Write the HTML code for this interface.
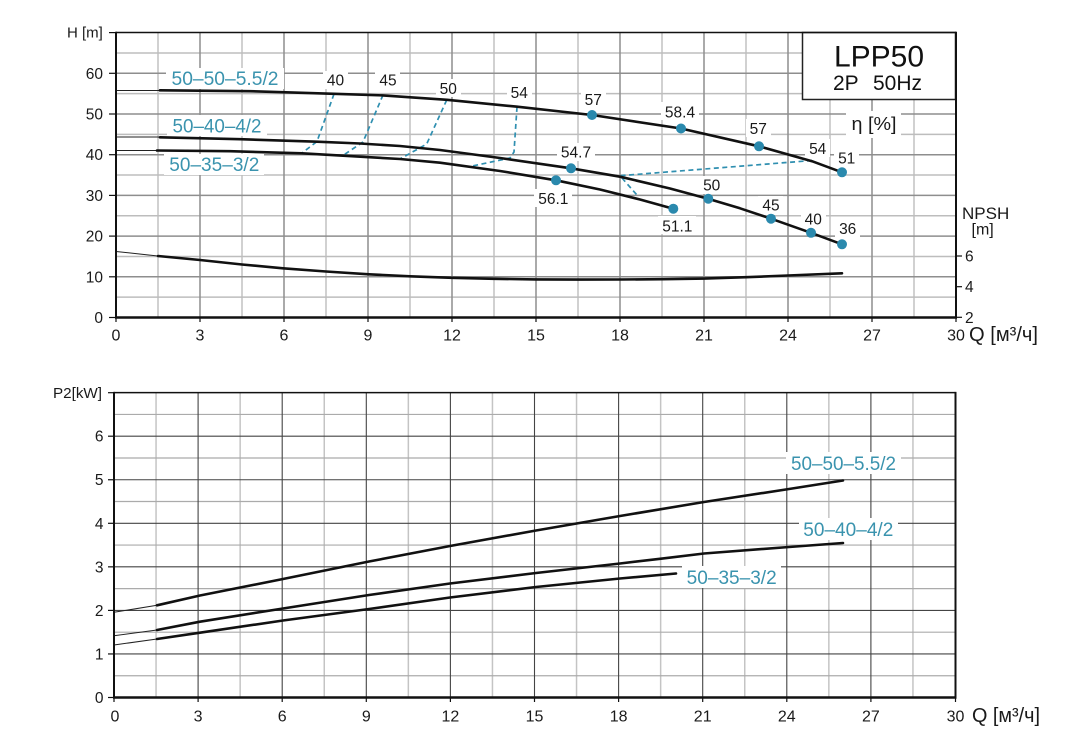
<!DOCTYPE html>
<html><head><meta charset="utf-8"><style>
html,body{margin:0;padding:0;background:#fff;}
svg{display:block;}
text{font-family:"Liberation Sans",Arial,sans-serif;}
</style></head><body>
<svg width="1079" height="756" viewBox="0 0 1079 756" xmlns="http://www.w3.org/2000/svg">
<rect width="1079" height="756" fill="#fff"/>

<!-- ================= TOP CHART ================= -->
<g>
<g stroke="#a3a3a3" stroke-width="1">
<line x1="158" y1="32.5" x2="158" y2="317.5"/><line x1="242" y1="32.5" x2="242" y2="317.5"/>
<line x1="326" y1="32.5" x2="326" y2="317.5"/><line x1="410" y1="32.5" x2="410" y2="317.5"/>
<line x1="494" y1="32.5" x2="494" y2="317.5"/><line x1="578" y1="32.5" x2="578" y2="317.5"/>
<line x1="662" y1="32.5" x2="662" y2="317.5"/><line x1="746" y1="32.5" x2="746" y2="317.5"/>
<line x1="830" y1="32.5" x2="830" y2="317.5"/><line x1="914" y1="32.5" x2="914" y2="317.5"/>
</g>
<g stroke="#bdbdbd" stroke-width="1.5">
<line x1="116" y1="297.15" x2="956" y2="297.15"/><line x1="116" y1="256.45" x2="956" y2="256.45"/>
<line x1="116" y1="215.75" x2="956" y2="215.75"/><line x1="116" y1="175.05" x2="956" y2="175.05"/>
<line x1="116" y1="134.35" x2="956" y2="134.35"/><line x1="116" y1="93.65" x2="956" y2="93.65"/>
<line x1="116" y1="52.95" x2="956" y2="52.95"/>
</g>
<g stroke="#8e8e8e" stroke-width="1.5">
<line x1="200" y1="32.5" x2="200" y2="317.5"/><line x1="284" y1="32.5" x2="284" y2="317.5"/>
<line x1="368" y1="32.5" x2="368" y2="317.5"/><line x1="452" y1="32.5" x2="452" y2="317.5"/>
<line x1="536" y1="32.5" x2="536" y2="317.5"/><line x1="620" y1="32.5" x2="620" y2="317.5"/>
<line x1="704" y1="32.5" x2="704" y2="317.5"/><line x1="788" y1="32.5" x2="788" y2="317.5"/>
<line x1="872" y1="32.5" x2="872" y2="317.5"/>
<line x1="116" y1="276.8" x2="956" y2="276.8"/><line x1="116" y1="236.1" x2="956" y2="236.1"/>
<line x1="116" y1="195.4" x2="956" y2="195.4"/><line x1="116" y1="154.7" x2="956" y2="154.7"/>
<line x1="116" y1="114" x2="956" y2="114"/><line x1="116" y1="73.3" x2="956" y2="73.3"/>
</g>

<rect x="802.5" y="32.5" width="153" height="67" fill="#fff" stroke="#222" stroke-width="1.5"/>
<text x="879" y="66.5" font-size="30" text-anchor="middle" fill="#111">LPP50</text>
<text x="833" y="90" font-size="21" fill="#111">2P</text>
<text x="873" y="90" font-size="21" fill="#111">50Hz</text>

<g fill="#fff">
<rect x="166" y="68" width="118" height="21"/>
<rect x="167" y="115" width="100" height="21"/>
<rect x="164" y="154" width="100" height="21"/>
<rect x="846" y="111" width="55" height="27"/>
<rect x="323" y="71" width="25" height="18"/>
<rect x="375" y="71" width="25" height="18"/>
<rect x="436" y="79" width="25" height="18"/>
<rect x="507" y="83" width="25" height="18"/>
<rect x="581" y="90" width="25" height="18"/>
<rect x="661" y="102" width="38" height="18"/>
<rect x="746" y="119" width="25" height="18"/>
<rect x="805" y="139" width="25" height="18"/>
<rect x="834" y="148" width="25" height="18"/>
<rect x="557" y="143" width="38" height="18"/>
<rect x="534" y="189" width="38" height="18"/>
<rect x="658" y="216" width="38" height="18"/>
<rect x="699" y="176" width="25" height="18"/>
<rect x="758" y="196" width="25" height="18"/>
<rect x="801" y="210" width="25" height="18"/>
<rect x="835" y="219" width="25" height="18"/>
</g>

<g stroke="#222" stroke-width="1">
<line x1="116" y1="90.5" x2="160" y2="90.5"/>
<line x1="116" y1="137" x2="160" y2="137"/>
<line x1="116" y1="150.5" x2="157" y2="150.5"/>
<line x1="116" y1="251.5" x2="158" y2="256"/>
</g>

<g fill="none" stroke="#2f8fb0" stroke-width="1.7" stroke-dasharray="5,3.5">
<polyline points="334,94 317,141.5 302,153"/>
<polyline points="383,95 363,142 343,155.5"/>
<polyline points="446.7,100 426.7,144 400,159"/>
<polyline points="517,107 514,152 510,158 470,166.5"/>
<polyline points="812,160.5 620,175.7 637,195"/>
</g>

<g fill="none" stroke="#111" stroke-width="2.6" stroke-linejoin="round" stroke-linecap="round">
<polyline points="160,90.3 250,91.2 334,93.8 383,95.4 447,99.8 516,106.6 592,115 681,128.5 759,146.3 812,161.2 842,172.3"/>
<polyline points="160,137.3 240,139.2 317,141.7 360,143.5 400,146 440,150 500,158 571,168.3 620,176.7 670,188.5 708,198.7 740,208.3 771,218.7 811,232.8 842,244.3"/>
<polyline points="157,150.5 230,151.2 302,153.3 343,155.7 400,159 440,162.7 500,171 556,180.3 600,189.5 640,199.5 673.3,208.7"/>
<polyline points="158,256 200,260 242,264.5 283,268.3 326,271.5 369,274.3 410,276.3 452,277.8 494,278.8 536,279.4 578,279.6 620,279.5 662,279.2 704,278.6 746,277.2 788,275.5 842,273.3"/>
</g>

<g fill="#2a89ad">
<circle cx="592" cy="115" r="5"/><circle cx="681" cy="128.5" r="5"/><circle cx="759" cy="146.3" r="5"/><circle cx="842" cy="172.3" r="5"/>
<circle cx="571" cy="168.3" r="5"/><circle cx="708.3" cy="198.7" r="5"/><circle cx="771" cy="218.7" r="5"/><circle cx="811" cy="232.8" r="5"/><circle cx="842" cy="244.3" r="5"/>
<circle cx="556" cy="180.3" r="5"/><circle cx="673.3" cy="208.7" r="5"/>
</g>

<g fill="#3a93ae" font-size="19">
<text x="171.5" y="85" textLength="107" lengthAdjust="spacingAndGlyphs">50–50–5.5/2</text>
<text x="172.5" y="132.3" textLength="89" lengthAdjust="spacingAndGlyphs">50–40–4/2</text>
<text x="169.3" y="171" textLength="90" lengthAdjust="spacingAndGlyphs">50–35–3/2</text>
</g>

<g fill="#1a1a1a" font-size="15.5" text-anchor="middle">
<text x="335.5" y="85.5">40</text>
<text x="388" y="85.5">45</text>
<text x="448.3" y="94">50</text>
<text x="519.3" y="98">54</text>
<text x="593.3" y="105">57</text>
<text x="680" y="117.4">58.4</text>
<text x="758.3" y="134">57</text>
<text x="817.7" y="154">54</text>
<text x="846.7" y="163.4">51</text>
<text x="576" y="157.7">54.7</text>
<text x="553.3" y="204">56.1</text>
<text x="677.3" y="231.4">51.1</text>
<text x="711.7" y="190.7">50</text>
<text x="771" y="210.7">45</text>
<text x="813.3" y="224.7">40</text>
<text x="847.7" y="234">36</text>
</g>
<text x="851.5" y="130" font-size="18" fill="#1a1a1a" textLength="45" lengthAdjust="spacingAndGlyphs">η [%]</text>

<g stroke="#111" fill="none">
<line x1="116" y1="32.5" x2="956" y2="32.5" stroke-width="1.5"/>
<line x1="116" y1="31.8" x2="116" y2="318.5" stroke-width="2"/>
<line x1="956" y1="31.8" x2="956" y2="318.5" stroke-width="2"/>
<line x1="115" y1="317.5" x2="957" y2="317.5" stroke-width="2.6"/>
</g>
<g stroke="#111" stroke-width="1.2">
<line x1="109" y1="32.6" x2="116" y2="32.6"/><line x1="109" y1="73.3" x2="116" y2="73.3"/>
<line x1="109" y1="114" x2="116" y2="114"/><line x1="109" y1="154.7" x2="116" y2="154.7"/>
<line x1="109" y1="195.4" x2="116" y2="195.4"/><line x1="109" y1="236.1" x2="116" y2="236.1"/>
<line x1="109" y1="276.8" x2="116" y2="276.8"/><line x1="109" y1="317.5" x2="116" y2="317.5"/>
<line x1="956" y1="256" x2="962" y2="256"/><line x1="956" y1="286.7" x2="962" y2="286.7"/><line x1="956" y1="317.3" x2="962" y2="317.3"/>
<line x1="116" y1="317.5" x2="116" y2="322"/><line x1="200" y1="317.5" x2="200" y2="322"/>
<line x1="284" y1="317.5" x2="284" y2="322"/><line x1="368" y1="317.5" x2="368" y2="322"/>
<line x1="452" y1="317.5" x2="452" y2="322"/><line x1="536" y1="317.5" x2="536" y2="322"/>
<line x1="620" y1="317.5" x2="620" y2="322"/><line x1="704" y1="317.5" x2="704" y2="322"/>
<line x1="788" y1="317.5" x2="788" y2="322"/><line x1="872" y1="317.5" x2="872" y2="322"/>
<line x1="956" y1="317.5" x2="956" y2="322"/>
</g>
<g fill="#1a1a1a" font-size="15.5" text-anchor="end">
<text x="103" y="79">60</text><text x="103" y="119.5">50</text><text x="103" y="160.2">40</text>
<text x="103" y="200.9">30</text><text x="103" y="241.6">20</text><text x="103" y="282.3">10</text>
<text x="103" y="323">0</text>
</g>
<text x="67" y="37.5" font-size="15" fill="#1a1a1a">H [m]</text>
<g fill="#1a1a1a" font-size="15.5">
<text x="965" y="261.5">6</text><text x="965" y="292.2">4</text><text x="965" y="322.8">2</text>
</g>
<text x="962" y="219" font-size="17" fill="#1a1a1a">NPSH</text>
<text x="971.5" y="234.5" font-size="16" fill="#1a1a1a">[m]</text>
<g fill="#1a1a1a" font-size="16" text-anchor="middle">
<text x="116" y="340.5">0</text><text x="200" y="340.5">3</text><text x="284" y="340.5">6</text>
<text x="368" y="340.5">9</text><text x="452" y="340.5">12</text><text x="536" y="340.5">15</text>
<text x="620" y="340.5">18</text><text x="704" y="340.5">21</text><text x="788" y="340.5">24</text>
<text x="872" y="340.5">27</text><text x="956" y="340.5">30</text>
</g>
<text x="969" y="341" font-size="20" fill="#1a1a1a" textLength="69" lengthAdjust="spacingAndGlyphs">Q [м³/ч]</text>
</g>

<!-- ================= BOTTOM CHART ================= -->
<g>
<g stroke="#c4c4c4" stroke-width="1.5">
<line x1="156.05" y1="392.6" x2="156.05" y2="697.5"/><line x1="240.15" y1="392.6" x2="240.15" y2="697.5"/>
<line x1="324.25" y1="392.6" x2="324.25" y2="697.5"/><line x1="408.35" y1="392.6" x2="408.35" y2="697.5"/>
<line x1="492.45" y1="392.6" x2="492.45" y2="697.5"/><line x1="576.55" y1="392.6" x2="576.55" y2="697.5"/>
<line x1="660.65" y1="392.6" x2="660.65" y2="697.5"/><line x1="744.75" y1="392.6" x2="744.75" y2="697.5"/>
<line x1="828.85" y1="392.6" x2="828.85" y2="697.5"/><line x1="912.95" y1="392.6" x2="912.95" y2="697.5"/>
</g>
<g stroke="#ababab" stroke-width="1.2">
<line x1="114" y1="675.72" x2="955.5" y2="675.72"/><line x1="114" y1="632.17" x2="955.5" y2="632.17"/>
<line x1="114" y1="588.62" x2="955.5" y2="588.62"/><line x1="114" y1="545.07" x2="955.5" y2="545.07"/>
<line x1="114" y1="501.52" x2="955.5" y2="501.52"/><line x1="114" y1="457.97" x2="955.5" y2="457.97"/>
<line x1="114" y1="414.42" x2="955.5" y2="414.42"/>
</g>
<g stroke="#444" stroke-width="1.1">
<line x1="198.1" y1="392.6" x2="198.1" y2="697.5"/><line x1="282.2" y1="392.6" x2="282.2" y2="697.5"/>
<line x1="366.3" y1="392.6" x2="366.3" y2="697.5"/><line x1="450.4" y1="392.6" x2="450.4" y2="697.5"/>
<line x1="534.5" y1="392.6" x2="534.5" y2="697.5"/><line x1="618.6" y1="392.6" x2="618.6" y2="697.5"/>
<line x1="702.7" y1="392.6" x2="702.7" y2="697.5"/><line x1="786.8" y1="392.6" x2="786.8" y2="697.5"/>
<line x1="870.9" y1="392.6" x2="870.9" y2="697.5"/>
<line x1="114" y1="653.95" x2="955.5" y2="653.95"/><line x1="114" y1="610.4" x2="955.5" y2="610.4"/>
<line x1="114" y1="566.85" x2="955.5" y2="566.85"/><line x1="114" y1="523.3" x2="955.5" y2="523.3"/>
<line x1="114" y1="479.75" x2="955.5" y2="479.75"/><line x1="114" y1="436.2" x2="955.5" y2="436.2"/>
</g>

<g fill="#fff">
<rect x="786" y="452" width="115" height="22"/>
<rect x="799" y="518" width="99" height="22"/>
<rect x="682" y="566" width="99" height="22"/>
</g>

<g stroke="#222" stroke-width="1">
<line x1="114" y1="612.3" x2="157" y2="605.3"/>
<line x1="114" y1="635.7" x2="157" y2="630"/>
<line x1="114" y1="645" x2="157" y2="639"/>
</g>
<g fill="none" stroke="#111" stroke-width="2.6" stroke-linejoin="round" stroke-linecap="round">
<polyline points="157,605.3 200,595.5 283,579 369,561.5 450,546 536,530.5 620,516 704,502 789,489 843,480.5"/>
<polyline points="157,630 200,621.7 283,608.5 369,595 450,583.5 536,573 620,563.5 660,558.8 704,553.5 789,547 843,543"/>
<polyline points="157,639 200,632.7 283,620.5 369,609 450,597.5 536,587 620,578.5 676,573.5"/>
</g>
<g fill="#3a93ae" font-size="19">
<text x="791" y="470" textLength="105" lengthAdjust="spacingAndGlyphs">50–50–5.5/2</text>
<text x="803.3" y="536" textLength="90" lengthAdjust="spacingAndGlyphs">50–40–4/2</text>
<text x="686.7" y="584" textLength="90" lengthAdjust="spacingAndGlyphs">50–35–3/2</text>
</g>

<g stroke="#111" fill="none">
<line x1="114" y1="392.6" x2="955.5" y2="392.6" stroke-width="1.5"/>
<line x1="114" y1="391.9" x2="114" y2="698.5" stroke-width="2"/>
<line x1="955.5" y1="391.9" x2="955.5" y2="698.5" stroke-width="2"/>
<line x1="113" y1="697.5" x2="956.5" y2="697.5" stroke-width="2.6"/>
</g>
<g stroke="#111" stroke-width="1.2">
<line x1="108" y1="392.7" x2="114" y2="392.7"/><line x1="108" y1="436.2" x2="114" y2="436.2"/>
<line x1="108" y1="479.75" x2="114" y2="479.75"/><line x1="108" y1="523.3" x2="114" y2="523.3"/>
<line x1="108" y1="566.85" x2="114" y2="566.85"/><line x1="108" y1="610.4" x2="114" y2="610.4"/>
<line x1="108" y1="653.95" x2="114" y2="653.95"/><line x1="108" y1="697.5" x2="114" y2="697.5"/>
<line x1="114" y1="697.5" x2="114" y2="702"/><line x1="198.1" y1="697.5" x2="198.1" y2="702"/>
<line x1="282.2" y1="697.5" x2="282.2" y2="702"/><line x1="366.3" y1="697.5" x2="366.3" y2="702"/>
<line x1="450.4" y1="697.5" x2="450.4" y2="702"/><line x1="534.5" y1="697.5" x2="534.5" y2="702"/>
<line x1="618.6" y1="697.5" x2="618.6" y2="702"/><line x1="702.7" y1="697.5" x2="702.7" y2="702"/>
<line x1="786.8" y1="697.5" x2="786.8" y2="702"/><line x1="870.9" y1="697.5" x2="870.9" y2="702"/>
<line x1="955.5" y1="697.5" x2="955.5" y2="702"/>
</g>
<g fill="#1a1a1a" font-size="15.5" text-anchor="end">
<text x="103.5" y="441.7">6</text><text x="103.5" y="485.2">5</text><text x="103.5" y="528.8">4</text>
<text x="103.5" y="572.3">3</text><text x="103.5" y="615.9">2</text><text x="103.5" y="659.4">1</text>
<text x="103.5" y="703">0</text>
</g>
<text x="53" y="398" font-size="15" fill="#1a1a1a" textLength="49" lengthAdjust="spacingAndGlyphs">P2[kW]</text>
<g fill="#1a1a1a" font-size="16" text-anchor="middle">
<text x="115" y="721.5">0</text><text x="198.1" y="721.5">3</text><text x="282.2" y="721.5">6</text>
<text x="366.3" y="721.5">9</text><text x="450.4" y="721.5">12</text><text x="534.5" y="721.5">15</text>
<text x="618.6" y="721.5">18</text><text x="702.7" y="721.5">21</text><text x="786.8" y="721.5">24</text>
<text x="870.9" y="721.5">27</text><text x="955.5" y="721.5">30</text>
</g>
<text x="972" y="722" font-size="20" fill="#1a1a1a" textLength="68" lengthAdjust="spacingAndGlyphs">Q [м³/ч]</text>
</g>
</svg>
</body></html>
